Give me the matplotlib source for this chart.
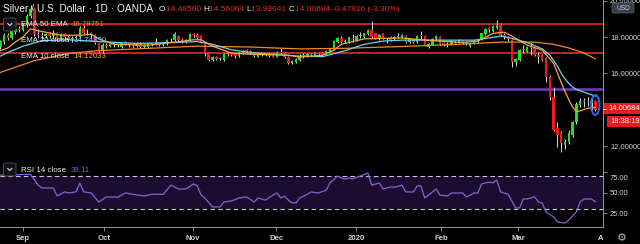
import matplotlib
matplotlib.use('Agg')
import matplotlib.pyplot as plt
import numpy as np
import pandas as pd
from matplotlib.patches import Rectangle, Ellipse, FancyBboxPatch
from matplotlib.lines import Line2D
from matplotlib.transforms import ScaledTranslation

plt.rcParams['font.family'] = ['Liberation Sans', 'DejaVu Sans']

# ---------------- data ----------------
dates = pd.bdate_range('2019-08-23', '2020-03-31')
bar_x = np.arange(len(dates)) - 6          # Sep 2 2019 -> 0

opens = [17.45, 17.75, 18.10, 17.95, 18.30, 18.45, 18.40, 18.65, 19.15, 19.55,
         18.15, 18.10, 18.05, 18.15, 18.05, 18.20, 17.90, 18.15, 18.00, 17.88,
         17.95, 18.00, 18.50, 18.25, 18.20, 18.10, 17.65, 17.25, 17.55, 17.50,
         17.60, 17.65, 17.45, 17.70, 17.65, 17.55, 17.50, 17.70, 17.45, 17.45,
         17.65, 17.60, 17.62, 17.58, 17.60, 17.85, 17.82, 18.05, 17.90, 17.75,
         17.85, 18.15, 18.10, 18.05, 17.70, 17.10, 16.75, 16.88, 16.78, 16.75,
         17.05, 17.10, 17.05, 16.95, 17.10, 17.25, 17.22, 17.10, 16.92, 17.08,
         17.02, 17.05, 17.05, 16.92, 17.15, 17.12, 16.90, 16.58, 16.62, 16.75,
         16.98, 16.95, 17.05, 16.98, 17.10, 17.12, 17.02, 17.20, 17.35, 17.75,
         17.95, 17.75, 17.75, 17.95, 17.85, 18.05, 18.00, 18.15, 18.40, 18.20,
         17.90, 18.20, 17.85, 18.00, 17.88, 18.02, 17.98, 18.05, 17.72, 17.88,
         17.75, 18.08, 18.08, 17.45, 17.58, 17.90, 18.00, 17.68, 17.60, 17.60,
         17.78, 17.70, 17.80, 17.75, 17.48, 17.62, 17.80, 17.85, 18.15, 18.48,
         18.35, 18.50, 18.66, 18.10, 18.00, 17.85, 16.65, 16.75, 17.30, 17.20,
         17.45, 17.42, 17.00, 17.00, 16.85, 15.80, 14.70, 13.00, 12.70, 12.05,
         12.20, 12.60, 13.30, 14.25, 14.50, 14.45, 14.38, 14.485]
highs = [17.85, 18.20, 18.25, 18.40, 18.55, 18.60, 18.75, 19.25, 19.75, 19.60,
         18.45, 18.30, 18.25, 18.30, 18.40, 18.30, 18.25, 18.20, 18.10, 18.05,
         18.10, 18.60, 18.65, 18.45, 18.30, 18.15, 17.70, 17.65, 17.70, 17.70,
         17.75, 17.70, 17.75, 17.80, 17.70, 17.65, 17.75, 17.75, 17.60, 17.70,
         17.70, 17.95, 17.70, 17.72, 17.90, 17.95, 18.30, 18.10, 17.95, 17.90,
         18.25, 18.25, 18.20, 18.10, 17.75, 17.15, 16.95, 16.95, 16.92, 17.10,
         17.15, 17.15, 17.10, 17.20, 17.30, 17.35, 17.28, 17.15, 17.12, 17.12,
         17.10, 17.10, 17.10, 17.22, 17.40, 17.15, 16.95, 16.75, 16.85, 17.05,
         17.10, 17.10, 17.10, 17.15, 17.15, 17.18, 17.30, 17.40, 17.85, 18.00,
         18.05, 17.90, 18.02, 18.15, 18.10, 18.30, 18.25, 18.45, 18.90, 18.25,
         18.15, 18.25, 17.95, 18.05, 18.05, 18.20, 18.15, 18.10, 17.95, 17.92,
         18.12, 18.35, 18.12, 17.65, 17.95, 18.10, 18.05, 17.72, 17.75, 17.82,
         17.85, 17.88, 17.85, 17.80, 17.68, 17.85, 17.88, 18.22, 18.48, 18.55,
         18.65, 18.93, 18.75, 18.25, 18.05, 17.90, 16.85, 17.35, 17.55, 17.50,
         17.65, 17.45, 17.15, 17.05, 16.90, 15.90, 15.25, 13.30, 12.80, 12.40,
         12.90, 13.40, 14.40, 14.65, 14.65, 14.70, 14.72, 14.56]
lows = [17.35, 17.60, 17.85, 17.90, 18.15, 18.30, 18.35, 18.55, 19.05, 18.05,
        17.95, 17.90, 17.95, 17.95, 17.90, 17.80, 17.85, 17.90, 17.80, 17.75,
        17.85, 17.95, 18.15, 18.10, 17.95, 17.60, 17.15, 17.10, 17.40, 17.45,
        17.45, 17.45, 17.40, 17.55, 17.45, 17.40, 17.45, 17.40, 17.40, 17.40,
        17.50, 17.55, 17.50, 17.52, 17.55, 17.75, 17.80, 17.75, 17.65, 17.70,
        17.80, 18.00, 17.90, 17.65, 16.95, 16.70, 16.70, 16.72, 16.72, 16.70,
        16.95, 16.95, 16.85, 16.90, 17.05, 17.10, 17.05, 16.88, 16.88, 16.95,
        16.95, 16.90, 16.88, 16.88, 17.05, 16.85, 16.52, 16.50, 16.58, 16.70,
        16.85, 16.90, 16.95, 16.95, 17.00, 16.98, 17.00, 17.15, 17.30, 17.70,
        17.70, 17.70, 17.70, 17.75, 17.80, 17.95, 17.95, 18.10, 17.95, 17.90,
        17.85, 17.90, 17.65, 17.80, 17.82, 17.95, 17.95, 17.70, 17.68, 17.70,
        17.70, 17.92, 17.50, 17.40, 17.55, 17.85, 17.55, 17.52, 17.45, 17.55,
        17.70, 17.65, 17.62, 17.58, 17.45, 17.60, 17.75, 17.82, 18.10, 18.30,
        18.30, 18.45, 18.05, 17.90, 17.80, 16.35, 16.40, 16.70, 17.10, 17.15,
        17.00, 16.95, 16.55, 16.70, 15.52, 14.55, 12.80, 11.95, 11.67, 11.85,
        12.10, 12.50, 13.20, 14.15, 14.15, 14.20, 14.00, 13.93]
closes = [17.78, 18.10, 17.95, 18.35, 18.45, 18.40, 18.65, 19.15, 19.55, 18.15,
          18.10, 18.05, 18.15, 18.05, 18.20, 17.90, 18.15, 18.00, 17.88, 17.95,
          18.00, 18.50, 18.25, 18.20, 18.10, 17.65, 17.25, 17.55, 17.50, 17.60,
          17.65, 17.55, 17.70, 17.60, 17.55, 17.52, 17.70, 17.45, 17.50, 17.65,
          17.60, 17.62, 17.58, 17.60, 17.85, 17.82, 18.15, 17.82, 17.75, 17.82,
          18.15, 18.10, 17.95, 17.70, 17.10, 16.75, 16.88, 16.78, 16.85, 17.05,
          17.10, 17.00, 16.95, 17.15, 17.25, 17.22, 17.10, 16.95, 17.08, 17.02,
          17.05, 16.98, 16.92, 17.18, 17.12, 16.90, 16.58, 16.70, 16.78, 16.98,
          16.95, 17.05, 17.00, 17.10, 17.05, 17.02, 17.25, 17.35, 17.80, 17.95,
          17.75, 17.80, 17.98, 17.92, 18.05, 18.10, 18.20, 18.40, 18.00, 17.95,
          18.10, 17.95, 17.82, 17.85, 18.02, 18.05, 18.10, 17.75, 17.90, 17.75,
          18.08, 18.05, 17.55, 17.62, 17.90, 18.05, 17.62, 17.58, 17.62, 17.78,
          17.75, 17.82, 17.68, 17.62, 17.65, 17.80, 17.82, 18.20, 18.45, 18.38,
          18.60, 18.66, 18.10, 18.02, 17.90, 16.60, 16.80, 17.30, 17.28, 17.45,
          17.42, 17.00, 16.90, 16.75, 15.80, 14.70, 12.90, 12.60, 12.17, 12.20,
          12.70, 13.30, 14.30, 14.50, 14.45, 14.40, 14.485, 14.007]

ema50_x = [-6, 3, 12, 20, 30, 46, 60, 73, 85, 100, 115, 126, 135, 140, 144, 148, 151]
ema50_v = [16.05, 16.70, 17.10, 17.25, 17.35, 17.50, 17.45, 17.35, 17.38, 17.48,
           17.60, 17.72, 17.72, 17.60, 17.40, 17.12, 16.80]

ema20_x = [-6, -4, 0, 5, 12, 20, 30, 40, 46, 50, 55, 60, 66, 73, 79, 85, 90, 95,
           100, 110, 119, 123, 126, 128, 133, 137, 139, 141, 142, 143, 144, 145,
           146, 148, 151]
ema20_v = [16.95, 17.15, 17.50, 17.80, 17.85, 17.75, 17.65, 17.70, 17.75, 17.60,
           17.30, 17.15, 17.05, 16.95, 16.92, 17.25, 17.60, 17.78, 17.83, 17.83,
           17.83, 17.95, 18.05, 17.98, 17.70, 17.35, 17.00, 16.40, 16.00, 15.70,
           15.45, 15.25, 15.12, 14.97, 14.75]

ema10_x = [-6, -4, -2, 0, 2, 4, 10, 15, 18, 20, 24, 33, 40, 45, 47, 50, 55, 60,
           70, 73, 79, 82, 84, 90, 100, 108, 116, 120, 124, 127, 129, 133, 137,
           139, 140, 142, 143, 144, 145, 146, 147, 149, 151]
ema10_v = [17.25, 17.40, 17.73, 18.00, 18.45, 18.35, 18.10, 18.10, 18.15, 17.90,
           17.60, 17.55, 17.72, 17.85, 17.85, 17.50, 17.12, 17.05, 17.00, 16.90,
           17.00, 17.28, 17.60, 17.90, 17.95, 17.80, 17.70, 17.78, 18.20, 18.27,
           18.05, 17.56, 17.28, 16.80, 16.55, 15.50, 15.00, 14.55, 14.15, 13.90,
           13.93, 14.08, 14.12]

rsi_x = [-6, 2, 4, 5, 8, 9, 11, 12, 14, 15, 16, 18, 20, 22, 24, 25, 27, 29, 32, 34,
         37, 39, 41, 43, 45, 46, 47, 48, 50, 52, 53, 55, 57, 59, 61, 62, 64, 65, 67, 68,
         69, 70, 71, 72, 73, 75, 76, 78, 80, 81, 83, 84, 85, 86, 87, 89, 91, 92, 94, 95,
         97, 98, 100, 101, 103, 104, 105, 106, 107, 109, 110, 112, 113, 115, 116, 117,
         119, 120, 121, 123, 124, 125, 126, 128, 130, 131, 132, 133, 135, 136, 137, 138,
         140, 141, 143, 144, 146, 147, 148, 150, 151]
rsi_v = [71, 72, 59, 55.6, 55.6, 46, 51, 49.6, 51, 61.6, 51, 49.6, 38.8, 44.8, 44.8,
         44.5, 49.6, 48, 46, 48, 48, 59, 54.4, 54.4, 60.4, 58, 47, 43.6, 32.8, 32.8,
         38.8, 40, 43.6, 44.8, 38.8, 43.6, 41, 44.5, 49.6, 43.6, 46, 41, 37.6, 37.6,
         43.6, 48, 50.8, 49.6, 53, 61.6, 70, 67.6, 66.4, 67.6, 66.4, 70, 73.6, 59,
         61.6, 54.4, 56.8, 56.5, 59, 50.8, 50.8, 58, 58, 43.6, 47, 54.4, 47, 46, 49.6,
         49.6, 49.6, 44.8, 49.6, 49.6, 60.4, 62.8, 61.6, 65.2, 50.8, 48, 31.6, 31.6,
         42.4, 42.4, 45, 38.8, 37.6, 26.8, 20.8, 14.7, 13.5, 17, 26.8, 38.8, 42.4,
         42.4, 39.11]

hlines_red = [18.72, 17.14]
hline_purple = 15.14
month_labels = ['Sep', 'Oct', 'Nov', 'Dec', '2020', 'Feb', 'Mar', 'Apr']
month_pos = [0, 21.4, 44.9, 66.8, 87.9, 110.3, 130.6, 152.0]
price_ticks = [12, 16, 18, 20]
rsi_ticks = [25, 50, 75]

title = 'Silver / U.S. Dollar \u00b7 1D \u00b7 OANDA'
ohlc = [('O', '14.48500'), ('H', '14.56064'), ('L', '13.93041'), ('C', '14.00684')]
change = '-0.47816 (-3.30%)'
last_price = '14.00684'
countdown = '18:38:19'
ema_legend = [('EMA 50 EMA', '16.79751'), ('EMA 20 close', '14.74830'), ('EMA 10 close', '14.12033')]
rsi_legend = ('RSI 14 close', '39.11')

# ---------------- figure ----------------
W, H = 640, 244
BG = '#000000'
TXT = '#d1d4dc'
GRN = '#1fe01f'
RED = '#ee1a1a'
C50 = '#ee8a22'
C20 = '#6fd2ee'
C10 = '#f9a640'
PURP = '#8a5fd6'

fig = plt.figure(figsize=(6.4, 2.44), dpi=100, facecolor=BG)

def fy(py):
    return 1 - py / H

xl = (-6.07, 153.03)

ax = fig.add_axes([0, fy(157), 603 / W, 157 / H])
ax.set_facecolor(BG)
ax.set_xlim(*xl)
ax.set_ylim(11.396, 20.04)

o = np.array(opens); h = np.array(highs); l = np.array(lows); c = np.array(closes)
up = c >= o
ax.vlines(bar_x, l, h, color='#dcdcdc', lw=0.7, zorder=2)
body_h = np.maximum(np.abs(c - o), 0.04)
ax.bar(bar_x, body_h, bottom=np.minimum(o, c), width=0.66,
       color=np.where(up, GRN, RED), linewidth=0, zorder=3)

for v in hlines_red:
    ax.axhline(v, color='#d22a2a', lw=1.3, zorder=1)
ax.axhline(hline_purple, color='#6c40c2', lw=1.8, zorder=1)

ax.plot(ema50_x, ema50_v, color=C50, lw=0.9, zorder=4)
ax.plot(ema20_x, ema20_v, color=C20, lw=0.9, zorder=4)
ax.plot(ema10_x, ema10_v, color=C10, lw=0.9, zorder=4)

ax.add_patch(Ellipse((bar_x[-1], 14.26), width=2.2, height=1.1, fill=False,
                     edgecolor='#2f6bff', lw=1.3, zorder=5))

for s in ax.spines.values():
    s.set_visible(False)
ax.set_xticks([])
ax.yaxis.tick_right()
ax.set_yticks(price_ticks)
ax.set_yticklabels(['%.5f' % t for t in price_ticks])
ax.tick_params(axis='y', colors='#9598a1', labelcolor=TXT, labelsize=5.4, length=3, width=0.6, pad=2)

# RSI panel
ax2 = fig.add_axes([0, fy(226.7), 603 / W, (226.7 - 159) / H])
ax2.set_facecolor(BG)
ax2.set_xlim(*xl)
ax2.set_ylim(9.1, 90.4)
ax2.axhspan(30, 70, color='#1b0d30', lw=0, zorder=0)
ax2.axhline(70, color='#c8c8d0', lw=0.8, ls=(0, (4, 3)), zorder=1)
ax2.axhline(30, color='#c8c8d0', lw=0.8, ls=(0, (4, 3)), zorder=1)
ax2.plot(rsi_x, rsi_v, color=PURP, lw=0.9, zorder=2)
for k, s in ax2.spines.items():
    s.set_visible(k == 'bottom')
ax2.spines['bottom'].set_color('#9598a1')
ax2.spines['bottom'].set_linewidth(0.7)
ax2.yaxis.tick_right()
ax2.set_yticks(rsi_ticks)
ax2.set_yticklabels(['%.2f' % t for t in rsi_ticks])
ax2.tick_params(axis='y', colors='#9598a1', labelcolor=TXT, labelsize=5.4, length=3, width=0.6, pad=2)
for lab in ax2.get_yticklabels():
    if lab.get_text() == '75.00':
        lab.set_transform(lab.get_transform() + ScaledTranslation(0, -4 / 72, fig.dpi_scale_trans))
ax2.set_xticks(month_pos[:-1])
ax2.set_xticklabels(month_labels[:-1])
ax2.tick_params(axis='x', colors='#9598a1', labelcolor=TXT, labelsize=5.6, length=3, width=0.6, pad=3)
for lab in ax2.get_xticklabels():
    lab.set_fontweight('bold')
apr = ax2.text(month_pos[-1] - 0.3, -0.17, month_labels[-1], transform=ax2.get_xaxis_transform(),
               ha='left', va='center', fontsize=5.6, fontweight='bold', color=TXT)
apr.set_clip_on(True)
apr.set_clip_box(None)
apr.set_clip_path(Rectangle((0, 0), 603, 244, transform=None))

# right axis vertical line
fig.add_artist(Line2D([603 / W, 603 / W], [fy(0), fy(227)], color='#9598a1', lw=0.7))

# ---------------- texts ----------------
r = fig.canvas.get_renderer()

def seq(x0, y, pieces, size, weight='normal'):
    x = x0
    for s, col in pieces:
        t = fig.text(x / W, fy(y), s, color=col, fontsize=size, fontweight=weight,
                     va='center', ha='left')
        bb = t.get_window_extent(renderer=r)
        x = bb.x1
    return x

seq(3, 9.5, [(title, '#f0f0f0')], 7.3)
pieces = []
for letter, val in ohlc:
    pieces.append((letter, '#f0f0f0'))
    pieces.append((val + ' ', '#e52a2a'))
pieces.append((change, '#e52a2a'))
seq(159, 9.8, pieces, 6.0)

def chevron_box(y0):
    fig.add_artist(FancyBboxPatch((3.5 / W, fy(y0 + 13)), 12.5 / W, 13 / H,
                                  boxstyle='round,pad=0,rounding_size=0.004',
                                  facecolor='#101218', edgecolor='#50535e', lw=0.6,
                                  transform=fig.transFigure))
    cx, cy = 9.75, y0 + 6.5
    fig.add_artist(Line2D([(cx - 2) / W, cx / W, (cx + 2) / W],
                          [fy(cy - 1), fy(cy + 1), fy(cy - 1)], color='#e0e0e0', lw=0.8))

chevron_box(18)
ema_cols = [C50, C20, C10]
for i, ((name, val), col) in enumerate(zip(ema_legend, ema_cols)):
    yy = 25 + i * 16
    seq(21, yy, [(name + '  ', '#ececec'), (val, col)], 5.7)

chevron_box(163)
seq(21, 171, [(rsi_legend[0] + '  ', '#ececec'), (rsi_legend[1], PURP)], 5.7)

# current price and countdown labels
fig.add_artist(Rectangle((604 / W, fy(114)), 36 / W, 11 / H, facecolor='#e81a1a',
                         edgecolor='none', transform=fig.transFigure))
fig.text(608 / W, fy(108.5), last_price, color='white', fontsize=5.4, va='center', ha='left')
fig.add_artist(Line2D([603 / W, 606 / W], [fy(108.5), fy(108.5)], color='white', lw=0.6))
fig.add_artist(Rectangle((607 / W, fy(126.5)), 33 / W, 10 / H, facecolor='#e81a1a',
                         edgecolor='none', transform=fig.transFigure))
fig.text(610 / W, fy(121.5), countdown, color='white', fontsize=5.4, va='center', ha='left')

# USD button
fig.add_artist(FancyBboxPatch((612 / W, fy(13)), 22 / W, 10 / H,
                              boxstyle='round,pad=0,rounding_size=0.004',
                              facecolor='#3a3e49', edgecolor='#5d606b', lw=0.5,
                              transform=fig.transFigure))
fig.text(623 / W, fy(8), 'USD', color='#c8cad0', fontsize=4.8, va='center', ha='center')

# settings icon
fig.text(622 / W, fy(238), '\u2699', color='#b2b5be', fontsize=8, va='center', ha='center',
         family='DejaVu Sans')

fig.savefig('out.png', dpi=100, facecolor=BG)
